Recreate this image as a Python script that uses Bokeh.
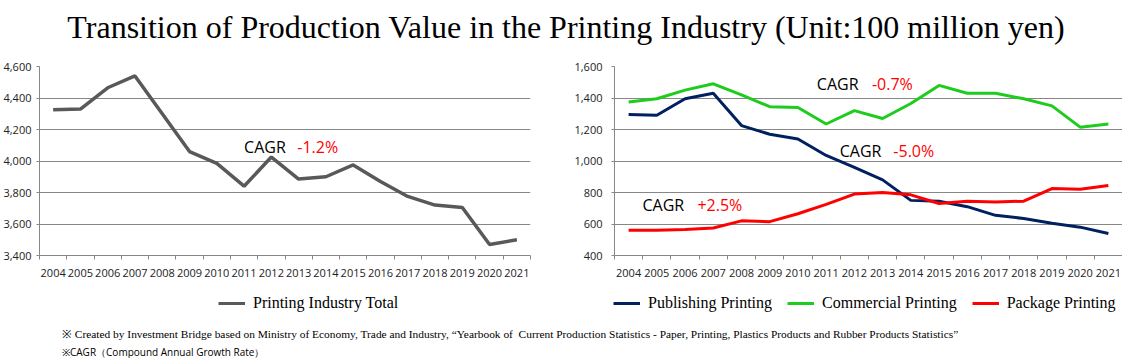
from bokeh.plotting import figure
from bokeh.models import (Range1d, FixedTicker, NumeralTickFormatter, Legend, LegendItem,
                          Label, Div, ColumnDataSource)
from bokeh.layouts import column, row
from bokeh.embed import file_html
from bokeh.resources import INLINE

years = [str(y) for y in range(2004, 2022)]
total = [4325, 4330, 4465, 4540, 4300, 4060, 3985, 3840, 4025, 3885, 3900, 3975,
         3870, 3775, 3720, 3705, 3470, 3500]
publishing = [1295, 1290, 1395, 1430, 1225, 1170, 1140, 1035, 960, 880, 750, 745,
              710, 655, 635, 605, 580, 540]
commercial = [1375, 1395, 1450, 1490, 1420, 1345, 1340, 1235, 1320, 1270, 1365, 1480,
              1430, 1430, 1395, 1350, 1215, 1235]
package = [560, 560, 565, 575, 620, 615, 665, 725, 790, 800, 785, 730,
           745, 740, 745, 825, 820, 845]

series_names = ["Printing Industry Total", "Publishing Printing", "Commercial Printing",
                "Package Printing"]
series_colors = ["#595959", "#002060", "#1ECC1E", "#FF0000"]

title_text = "Transition of Production Value in the Printing Industry (Unit:100 million yen)"
note1 = ("※ Created by Investment Bridge based on Ministry of Economy, Trade and Industry, "
         "“Yearbook of&nbsp; Current Production Statistics - Paper, Printing, Plastics Products "
         "and Rubber Products Statistics”")
note2 = "※CAGR（Compound Annual Growth Rate）"

GRID = "#878787"
TICK_FONT = "Open Sans"

xs = [i + 0.5 for i in range(len(years))]


def base_fig(width, ymin, ymax, bl, br, bt, bb):
    p = figure(width=width, height=230, x_range=Range1d(0, len(years)),
               y_range=Range1d(ymin, ymax), output_backend="svg", toolbar_location=None,
               min_border_left=bl, min_border_right=br, min_border_top=bt,
               min_border_bottom=bb)
    p.outline_line_color = None
    p.background_fill_color = "white"
    p.border_fill_color = "white"
    p.xgrid.visible = False
    p.ygrid.grid_line_color = GRID
    p.ygrid.grid_line_width = 1
    p.yaxis.ticker = FixedTicker(ticks=list(range(ymin, ymax + 1, 200)))
    p.yaxis.formatter = NumeralTickFormatter(format="0,0")
    p.yaxis.axis_line_color = GRID
    p.yaxis.major_tick_line_color = GRID
    p.yaxis.major_tick_out = 3
    p.yaxis.major_tick_in = 0
    p.yaxis.minor_tick_line_color = None
    p.yaxis.major_label_text_font = TICK_FONT
    p.yaxis.major_label_text_font_size = "11px"
    p.yaxis.major_label_text_color = "#222222"
    p.xaxis.ticker = FixedTicker(ticks=xs, minor_ticks=list(range(len(years) + 1)))
    p.xaxis.major_label_overrides = {x: y for x, y in zip(xs, years)}
    p.xaxis.axis_line_color = GRID
    p.xaxis.major_tick_line_color = None
    p.xaxis.major_tick_out = 0
    p.xaxis.major_tick_in = 0
    p.xaxis.minor_tick_line_color = GRID
    p.xaxis.minor_tick_out = 4
    p.xaxis.minor_tick_in = 0
    p.xaxis.major_label_standoff = 9
    p.xaxis.major_label_text_font = TICK_FONT
    p.xaxis.major_label_text_font_size = "11px"
    p.xaxis.major_label_text_color = "#222222"
    return p


def cagr(p, x, y, value, gap):
    p.add_layout(Label(x=x, y=y, text="CAGR", text_font=TICK_FONT, text_font_size="16px",
                       text_color="black", text_baseline="middle"))
    p.add_layout(Label(x=x + gap, y=y, text=value, text_font=TICK_FONT, text_font_size="16px",
                       text_color="#FF0000", text_baseline="middle"))


def legend_fig(width, names, colors, series, loc):
    # Legend-only strip: the series are drawn but lie outside this strip's y range.
    lf = figure(width=width, height=35, x_range=Range1d(0, len(years)), y_range=Range1d(0, 1),
                output_backend="svg", toolbar_location=None, min_border=0)
    lf.axis.visible = False
    lf.grid.visible = False
    lf.outline_line_color = None
    items = []
    for name, color, ys in zip(names, colors, series):
        r = lf.line(x=xs, y=ys, line_color=color, line_width=3)
        items.append(LegendItem(label=name, renderers=[r]))
    lf.add_layout(Legend(items=items, location=loc, orientation="horizontal",
                         border_line_color=None, background_fill_alpha=0, glyph_width=27,
                         glyph_height=20, label_standoff=8, spacing=15, padding=0, margin=0,
                         label_text_font="Liberation Serif", label_text_font_size="16px",
                         label_text_color="black"))
    return lf


# Left chart
p1 = base_fig(548, 3400, 4600, 36, 18, 9, 30)
p1.yaxis.major_label_standoff = 5
src1 = ColumnDataSource(dict(x=xs, y=total))
p1.line("x", "y", source=src1, line_color=series_colors[0], line_width=3.5)
cagr(p1, 7.5, 4090, "-1.2%", 1.95)

# Right chart
p2 = base_fig(574, 400, 1600, 66, 0, 11, 26)
p2.yaxis.major_label_standoff = 9
src2 = ColumnDataSource(dict(x=xs, pub=publishing, com=commercial, pac=package))
p2.line("x", "pub", source=src2, line_color=series_colors[1], line_width=3)
p2.line("x", "com", source=src2, line_color=series_colors[2], line_width=3)
p2.line("x", "pac", source=src2, line_color=series_colors[3], line_width=3)
cagr(p2, 7.17, 1488, "-0.7%", 1.95)
cagr(p2, 7.98, 1064, "-5.0%", 1.9)
cagr(p2, 0.99, 722, "+2.5%", 1.95)

l1 = legend_fig(548, series_names[:1], series_colors[:1], [total], (218, 7))
l2 = legend_fig(574, series_names[1:], series_colors[1:], [publishing, commercial, package],
                (65, 7))

title = Div(text=f"<div style=\"font-family:'Liberation Serif';font-size:32px;"
                 f"text-align:center;line-height:45px;width:1122px;color:black;\">{title_text}</div>",
            width=1122, height=45)
notes = Div(text=f"<div style=\"padding-left:57px;line-height:18px;color:black;\">"
                 f"<div style=\"font-family:'Liberation Serif';font-size:11.4px;\">{note1}</div>"
                 f"<div style=\"font-family:'Open Sans';font-size:10px;\">{note2}</div></div>",
            width=1122, height=32)

layout = column(title, row(p1, p2), row(l1, l2), notes)

open("out.html", "w").write(file_html(layout, INLINE))
